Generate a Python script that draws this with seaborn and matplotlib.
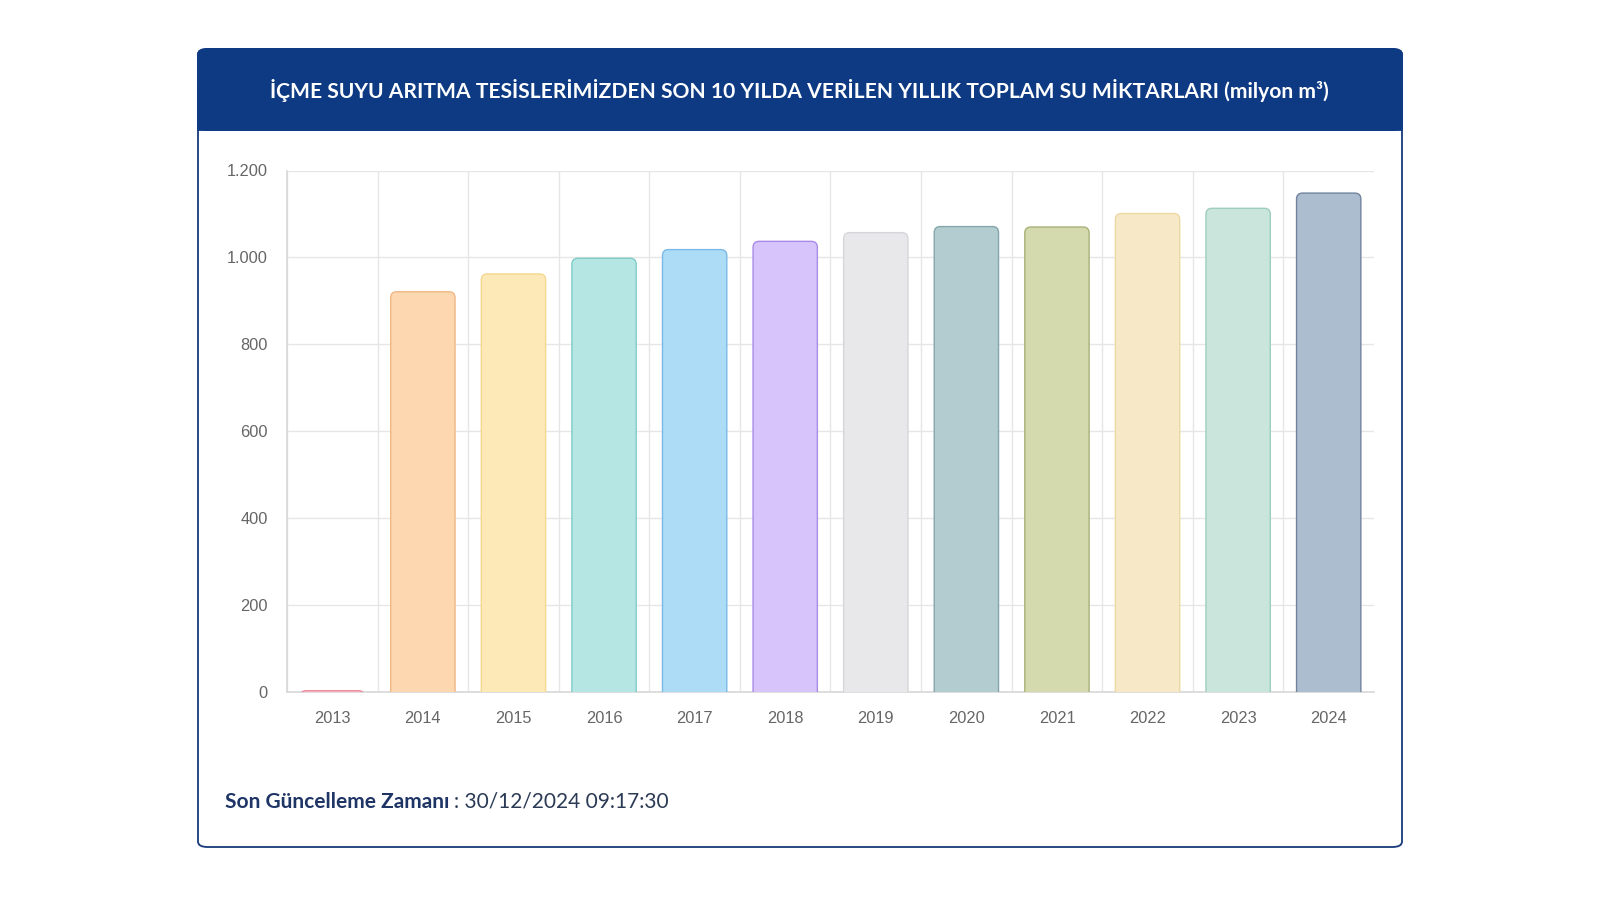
import matplotlib
matplotlib.use("Agg")
import matplotlib.pyplot as plt
import seaborn as sns
import pandas as pd
import numpy as np
from matplotlib.patches import FancyBboxPatch

years = ["2013", "2014", "2015", "2016", "2017", "2018", "2019", "2020", "2021", "2022", "2023", "2024"]
values = [3, 921, 962, 998, 1018, 1037, 1057, 1071, 1070, 1101, 1113, 1148]
fill_colors = ["#f7c9d3", "#fdd7b0", "#fde8b8", "#b6e6e4", "#addcf7", "#d6c4fb",
               "#e8e8ea", "#b3ccd0", "#d4d9ae", "#f7e9c8", "#c9e5dc", "#adbdd0"]
edge_colors = ["#f08aa0", "#efb885", "#f5d890", "#7fcdc8", "#7ab9e6", "#a98be8",
               "#d6d6da", "#84a6ab", "#a8b178", "#ecd8a2", "#9ccdbd", "#71839d"]
yticks = [0, 200, 400, 600, 800, 1000, 1200]
ytick_labels = ["0", "200", "400", "600", "800", "1.000", "1.200"]
title = "İÇME SUYU ARITMA TESİSLERİMİZDEN SON 10 YILDA VERİLEN YILLIK TOPLAM SU MİKTARLARI (milyon m³)"
footer_bold = "Son Güncelleme Zamanı"
footer_value = ": 30/12/2024 09:17:30"

sns.set_theme(style="white")
plt.rcParams["font.family"] = ["DejaVu Sans"]

fig = plt.figure(figsize=(16, 9), dpi=100)
fig.patch.set_facecolor("white")

# Card
card = FancyBboxPatch((198 / 1600, 1 - 847 / 900), (1402 - 198) / 1600, (847 - 49) / 900,
                      boxstyle="round,pad=0,rounding_size=0.006", transform=fig.transFigure,
                      facecolor="white", edgecolor="#16397a", linewidth=1.3, zorder=-3)
fig.patches.append(card)
header = FancyBboxPatch((198 / 1600, 1 - 130 / 900), (1402 - 198) / 1600, (130 - 49) / 900,
                        boxstyle="round,pad=0,rounding_size=0.006", transform=fig.transFigure,
                        facecolor="#0d3a83", edgecolor="#0d3a83", linewidth=1.3, zorder=-2)
fig.patches.append(header)
header2 = FancyBboxPatch((198 / 1600, 1 - 130 / 900), (1402 - 198) / 1600, (130 - 90) / 900,
                         boxstyle="square,pad=0", transform=fig.transFigure,
                         facecolor="#0d3a83", edgecolor="#0d3a83", linewidth=1.3, zorder=-2)
fig.patches.append(header2)

fig.text(799 / 1600, 1 - 90 / 900, title, color="white", fontsize=15.1, fontweight="bold",
         family=["Lato", "DejaVu Sans"], ha="center", va="center")

ax = fig.add_axes([287 / 1600, 1 - 692 / 900, (1374 - 287) / 1600, (692 - 170.5) / 900])
ax.set_zorder(2)
ax.patch.set_alpha(0)
df = pd.DataFrame({"year": years, "value": values})
sns.barplot(data=df, x="year", y="value", hue="year", palette=fill_colors, legend=False,
            width=0.71, ax=ax, saturation=1)

ax.set_ylim(0, 1200)
ax.set_xlim(-0.5, len(years) - 0.5)
fig.canvas.draw()

# Replace bars with rounded-top bars
px_per_x = ax.transData.transform((1, 0))[0] - ax.transData.transform((0, 0))[0]
px_per_y = ax.transData.transform((0, 1))[1] - ax.transData.transform((0, 0))[1]
radius_px = 6
rad_x = radius_px / px_per_x
aspect = px_per_x / px_per_y
bars = list(ax.patches)
for i, p in enumerate(bars):
    x0, w, h = p.get_x(), p.get_width(), p.get_height()
    p.remove()
    r = min(rad_x, w / 2)
    fb = FancyBboxPatch((x0, -30), w, h + 30,
                        boxstyle=f"round,pad=0,rounding_size={r}",
                        mutation_aspect=aspect,
                        facecolor=fill_colors[i], edgecolor=edge_colors[i], linewidth=1.0,
                        zorder=3, clip_on=True)
    ax.add_patch(fb)

ax.set_yticks(yticks)
ax.set_yticklabels(ytick_labels)
ax.set_xticks(range(len(years)))
ax.set_xticklabels(years)
ax.set_xticks(np.arange(-0.5, len(years) - 1, 1.0), minor=True)
ax.tick_params(axis="x", which="major", length=0, pad=14, labelsize=11.8, labelcolor="#666666")
ax.tick_params(axis="x", which="minor", length=12, width=1, color="#e2e2e2", direction="out")
ax.tick_params(axis="y", which="major", length=8, width=1, color="#e2e2e2", pad=6,
               labelsize=11.8, labelcolor="#666666")
ax.grid(axis="y", which="major", color="#e6e6e6", linewidth=1, zorder=0)
ax.grid(axis="x", which="minor", color="#e6e6e6", linewidth=1, zorder=0)
ax.grid(axis="x", which="major", visible=False)
ax.set_axisbelow(True)
for s in ["top", "right"]:
    ax.spines[s].set_visible(False)
ax.spines["left"].set_color("#d9d9d9")
ax.spines["bottom"].set_color("#d9d9d9")
ax.set_xlabel("")
ax.set_ylabel("")
for lbl in ax.get_xticklabels() + ax.get_yticklabels():
    lbl.set_family(["Liberation Sans", "DejaVu Sans"])

t1 = fig.text(225 / 1600, 1 - 802 / 900, footer_bold, color="#1e3566", fontsize=15,
              fontweight="bold", family=["Lato", "DejaVu Sans"], ha="left", va="center")
fig.canvas.draw()
bb = t1.get_window_extent()
fig.text((bb.x1 + 5) / 1600, 1 - 802 / 900, footer_value, color="#2b3a55", fontsize=15,
         family=["Lato", "DejaVu Sans"], ha="left", va="center")

fig.savefig("out.png", dpi=100, facecolor="white")
